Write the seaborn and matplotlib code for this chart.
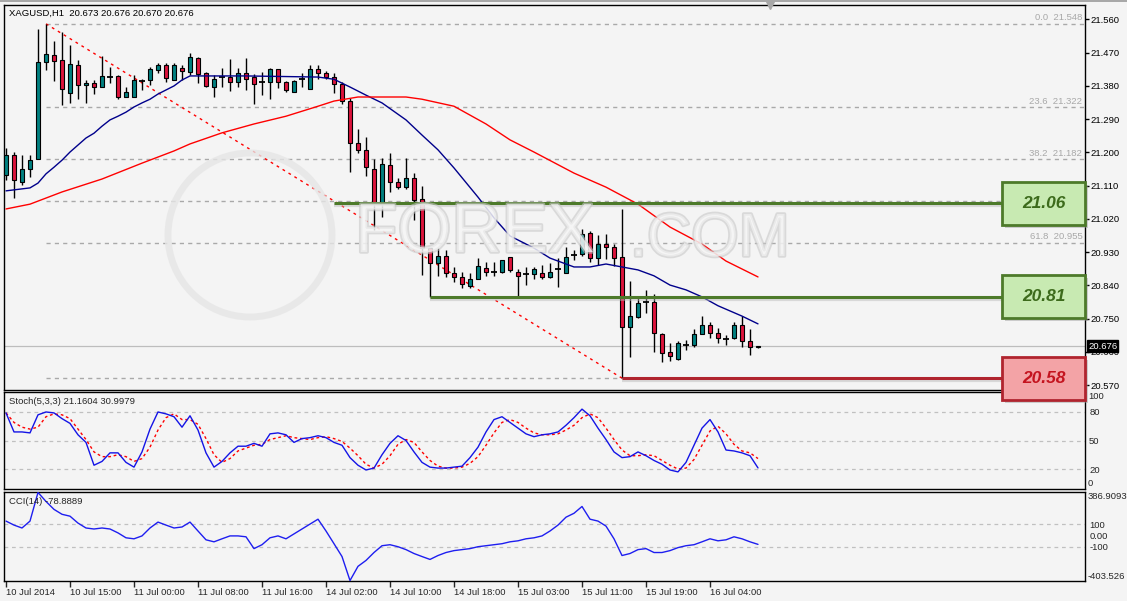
import numpy as np
import pandas as pd
import matplotlib
matplotlib.use("Agg")
import matplotlib.pyplot as plt
import matplotlib.transforms as mtransforms
from matplotlib.patches import FancyBboxPatch, Rectangle, Ellipse
import matplotlib.patheffects as pe
import seaborn as sns

# ---------------- data ----------------
symbol_header = "XAGUSD,H1  20.673 20.676 20.670 20.676"
stoch_header = "Stoch(5,3,3) 21.1604 30.9979"
cci_header = "CCI(14) -78.8889"

opens = [
    21.139, 21.193, 21.120, 21.155, 21.182, 21.444, 21.463, 21.450, 21.361, 21.436,
    21.382, 21.388, 21.377, 21.404, 21.407, 21.350, 21.350, 21.393, 21.396, 21.423,
    21.436, 21.396, 21.428, 21.417, 21.455, 21.415, 21.377, 21.404, 21.404, 21.390,
    21.415, 21.404, 21.390, 21.390, 21.426, 21.390, 21.363, 21.398, 21.371, 21.426,
    21.415, 21.404, 21.385, 21.339, 21.225, 21.206, 21.155, 21.063, 21.166, 21.120,
    21.106, 21.131, 21.074, 20.941, 20.901, 20.920, 20.874, 20.863, 20.839, 20.858,
    20.887, 20.876, 20.876, 20.917, 20.876, 20.871, 20.871, 20.874, 20.863, 20.885,
    20.874, 20.923, 20.925, 20.982, 20.914, 20.952, 20.944, 20.917, 20.728, 20.755,
    20.795, 20.795, 20.709, 20.660, 20.641, 20.679, 20.679, 20.709, 20.733, 20.711,
    20.695, 20.698, 20.733, 20.690, 20.673]
highs = [
    21.212, 21.201, 21.193, 21.193, 21.534, 21.548, 21.501, 21.526, 21.490, 21.450,
    21.396, 21.396, 21.461, 21.431, 21.409, 21.377, 21.409, 21.398, 21.431, 21.442,
    21.442, 21.442, 21.436, 21.469, 21.458, 21.417, 21.409, 21.428, 21.453, 21.428,
    21.455, 21.412, 21.417, 21.428, 21.426, 21.393, 21.396, 21.415, 21.436, 21.436,
    21.420, 21.415, 21.390, 21.347, 21.263, 21.242, 21.182, 21.185, 21.198, 21.131,
    21.185, 21.144, 21.109, 20.941, 20.941, 20.936, 20.890, 20.876, 20.874, 20.914,
    20.904, 20.904, 20.909, 20.917, 20.885, 20.890, 20.890, 20.896, 20.901, 20.914,
    20.944, 20.936, 20.993, 20.987, 20.977, 20.979, 20.952, 21.047, 20.852, 20.806,
    20.828, 20.817, 20.711, 20.684, 20.690, 20.693, 20.722, 20.757, 20.741, 20.725,
    20.706, 20.741, 20.757, 20.722, 20.676]
lows = [
    21.125, 21.077, 21.112, 21.134, 21.182, 21.423, 21.393, 21.328, 21.334, 21.344,
    21.334, 21.358, 21.377, 21.388, 21.344, 21.350, 21.350, 21.369, 21.382, 21.415,
    21.390, 21.396, 21.396, 21.409, 21.388, 21.377, 21.350, 21.377, 21.366, 21.377,
    21.369, 21.331, 21.355, 21.344, 21.374, 21.363, 21.363, 21.377, 21.371, 21.398,
    21.398, 21.361, 21.331, 21.147, 21.198, 21.136, 20.990, 21.025, 21.093, 21.101,
    21.101, 21.017, 20.868, 20.809, 20.866, 20.863, 20.849, 20.833, 20.833, 20.858,
    20.866, 20.866, 20.874, 20.876, 20.812, 20.841, 20.858, 20.858, 20.860, 20.836,
    20.874, 20.909, 20.920, 20.904, 20.896, 20.912, 20.893, 20.589, 20.647, 20.752,
    20.766, 20.660, 20.633, 20.636, 20.638, 20.665, 20.674, 20.709, 20.698, 20.684,
    20.679, 20.695, 20.674, 20.652, 20.670]
closes = [
    21.193, 21.125, 21.155, 21.179, 21.444, 21.466, 21.447, 21.371, 21.439, 21.382,
    21.388, 21.377, 21.407, 21.404, 21.350, 21.363, 21.396, 21.393, 21.426, 21.436,
    21.401, 21.436, 21.420, 21.458, 21.412, 21.380, 21.398, 21.404, 21.390, 21.415,
    21.398, 21.385, 21.390, 21.426, 21.390, 21.369, 21.393, 21.398, 21.426, 21.415,
    21.404, 21.385, 21.339, 21.225, 21.206, 21.161, 21.063, 21.169, 21.120, 21.106,
    21.131, 21.071, 20.941, 20.901, 20.920, 20.874, 20.863, 20.844, 20.858, 20.893,
    20.876, 20.876, 20.909, 20.882, 20.866, 20.871, 20.885, 20.863, 20.876, 20.885,
    20.917, 20.923, 20.979, 20.914, 20.952, 20.944, 20.914, 20.728, 20.757, 20.793,
    20.795, 20.711, 20.657, 20.649, 20.684, 20.679, 20.709, 20.733, 20.711, 20.698,
    20.695, 20.733, 20.690, 20.674, 20.676]

ma_fast_bars = [0, 3, 4, 5, 6, 7, 8, 9, 10, 11, 12, 13, 14, 15, 16, 17, 18, 19, 20,
                21, 22, 23, 30, 39, 41, 43, 45, 47, 50, 52, 54, 56, 59, 61, 63, 66,
                68, 71, 73, 75, 77, 79, 81, 83, 85, 87, 89, 92, 94]
ma_fast_vals = [21.096, 21.104, 21.117, 21.142, 21.160, 21.179, 21.201, 21.220,
                21.239, 21.252, 21.271, 21.288, 21.298, 21.309, 21.323, 21.334,
                21.344, 21.358, 21.369, 21.380, 21.396, 21.407, 21.407, 21.404,
                21.398, 21.377, 21.355, 21.334, 21.288, 21.247, 21.207, 21.158,
                21.079, 21.023, 20.974, 20.941, 20.914, 20.890, 20.890, 20.898,
                20.890, 20.882, 20.866, 20.841, 20.828, 20.809, 20.785, 20.757,
                20.736]
ma_slow_bars = [0, 3, 7, 12, 17, 21, 23, 27, 31, 35, 39, 41, 44, 47, 50, 52, 56,
                60, 63, 66, 71, 75, 79, 83, 87, 90, 94]
ma_slow_vals = [21.047, 21.060, 21.093, 21.128, 21.171, 21.204, 21.223, 21.253,
                21.277, 21.298, 21.325, 21.339, 21.350, 21.350, 21.350, 21.344,
                21.325, 21.277, 21.234, 21.201, 21.144, 21.106, 21.060, 20.998,
                20.952, 20.906, 20.863]

stoch_k = [79, 59, 59, 58, 77, 80, 79, 73, 68, 56,
           48, 24, 28, 37, 37, 27, 22, 38, 62, 80,
           78, 75, 64, 76, 61, 37, 22, 28, 37, 44,
           44, 47, 44, 57, 58, 56, 48, 52, 53, 55,
           53, 48, 45, 32, 24, 19, 21, 35, 47, 55,
           50, 38, 27, 22, 21, 21, 22, 23, 32, 43,
           59, 72, 75, 69, 63, 57, 54, 56, 57, 59,
           66, 74, 83, 76, 63, 51, 38, 32, 33, 38,
           34, 29, 25, 19, 17, 27, 45, 63, 72, 59,
           40, 39, 37, 34, 21.1604]
stoch_d = [79, 69, 64, 62, 64, 75, 78, 77, 73, 62,
           51, 38, 33, 33, 35, 33, 28, 31, 43, 61,
           74, 78, 72, 72, 67, 52, 35, 27, 31, 39,
           42, 45, 46, 51, 53, 55, 53, 52, 51, 53,
           54, 52, 49, 42, 34, 25, 21, 25, 34, 46,
           51, 48, 38, 29, 23, 21, 21, 22, 26, 33,
           45, 58, 69, 72, 69, 63, 58, 56, 56, 57,
           61, 66, 74, 78, 74, 63, 51, 40, 34, 34,
           35, 34, 29, 24, 20, 21, 30, 45, 60, 65,
           57, 46, 39, 37, 30.9979]
cci = [130, 94, 68, 130, 386.9093, 306, 235, 191, 174, 112,
       68, 59, 68, 59, 24, -20, -29, -3, 68, 121,
       94, 68, 77, 121, 41, -38, -56, -29, -3, -3,
       -11, -117, -82, -20, -3, -29, 15, 59, 103, 147,
       41, -73, -188, -403.526, -276, -223, -152, -91, -82, -100,
       -126, -161, -188, -214, -179, -152, -135, -126, -117, -100,
       -91, -82, -73, -56, -47, -29, -20, -3, 41, 94,
       165, 200, 261, 147, 130, 85, -29, -179, -161, -126,
       -117, -152, -152, -135, -108, -91, -82, -56, -29, -47,
       -38, -11, -29, -56, -78.8889]

price_ticks = [21.560, 21.470, 21.380, 21.290, 21.200, 21.110, 21.020, 20.930,
               20.840, 20.750, 20.660, 20.570]
time_tick_bars = [0, 8, 16, 24, 32, 40, 48, 56, 64, 72, 80, 88]
time_tick_labels = ["10 Jul 2014", "10 Jul 15:00", "11 Jul 00:00", "11 Jul 08:00",
                    "11 Jul 16:00", "14 Jul 02:00", "14 Jul 10:00", "14 Jul 18:00",
                    "15 Jul 03:00", "15 Jul 11:00", "15 Jul 19:00", "16 Jul 04:00"]

fib_pcts = [0.0, 23.6, 38.2, 50.0, 61.8, 100.0]
fib_labelled = [0.0, 23.6, 38.2, 61.8]   # the others sit under the boxes
fib_anchor_high_bar = 5
fib_anchor_low_bar = 77

level_vals = [21.063, 20.81, 20.589]
level_labels = ["21.06", "20.81", "20.58"]
level_start_bars = [41, 53, 77]
level_kinds = ["res", "res", "sup"]

stoch_levels = [80, 50, 20]
cci_levels = [100, -100]
last_price = closes[-1]

# ---------------- style ----------------
sns.set_style("white")
plt.rcParams["font.family"] = ["Liberation Sans", "DejaVu Sans"]
BG = "#f4f4f4"
FS = 6.8

W, H = 1127, 601
fig = plt.figure(figsize=(W / 100, H / 100), dpi=100, facecolor=BG)


def rect(x0, y0, x1, y1):
    return [x0 / W, 1 - y1 / H, (x1 - x0) / W, (y1 - y0) / H]


ax = fig.add_axes(rect(4, 5, 1085, 390))
ax_st = fig.add_axes(rect(4, 392, 1085, 489), sharex=ax)
ax_cci = fig.add_axes(rect(4, 492, 1085, 581), sharex=ax)
ax.set_zorder(3)
ax_st.set_zorder(1)
ax_cci.set_zorder(1)

for a in (ax, ax_st, ax_cci):
    a.set_facecolor(BG)
    for s in a.spines.values():
        s.set_color("black")
        s.set_linewidth(1)
    a.yaxis.tick_right()

XMIN, XMAX = -0.25, 134.875
ax.set_xlim(XMIN, XMAX)

# ---------------- main panel ----------------
df = pd.DataFrame(dict(bar=np.arange(len(opens)), open=opens, high=highs,
                       low=lows, close=closes))
up = df.close > df.open
dn = df.close < df.open
flat = ~(up | dn)

ax.vlines(df.bar, df.low, df.high, color="black", lw=1, zorder=4)
ax.bar(df.bar[up], (df.close - df.open)[up], bottom=df.open[up], width=0.58,
       color="#008080", edgecolor="black", linewidth=0.8, zorder=5)
ax.bar(df.bar[dn], (df.open - df.close)[dn], bottom=df.close[dn], width=0.58,
       color="#dc143c", edgecolor="black", linewidth=0.8, zorder=5)
ax.hlines(df.close[flat], df.bar[flat] - 0.32, df.bar[flat] + 0.32,
          color="black", lw=1.3, zorder=5)

sns.lineplot(x=ma_fast_bars, y=ma_fast_vals, ax=ax, color="#00008b",
             linewidth=1, estimator=None, zorder=6)
sns.lineplot(x=ma_slow_bars, y=ma_slow_vals, ax=ax, color="#ff0000",
             linewidth=1, estimator=None, zorder=6)

# Fibonacci levels
fh = highs[fib_anchor_high_bar]
fl = lows[fib_anchor_low_bar]
label_tr = mtransforms.blended_transform_factory(ax.transAxes, ax.transData)
for p in fib_pcts:
    lvl = fh - p / 100.0 * (fh - fl)
    ax.hlines(lvl, fib_anchor_high_bar, XMAX, color="#a9a9a9", lw=1,
              linestyles=(0, (3, 3)), zorder=1)
    if p in fib_labelled:
        ax.text(0.9975, lvl + 0.004, f"{p:.1f}  {lvl:.3f}", transform=label_tr,
                ha="right", va="bottom", fontsize=FS, color="#a8a8a8", zorder=2)

# trend line (dotted red)
ax.plot([fib_anchor_high_bar, fib_anchor_low_bar], [fh, fl], color="#ff0000",
        lw=1, ls=(0, (2, 3)), zorder=3)

# current price line
ax.axhline(last_price, color="#bdbdbd", lw=0.9, zorder=1)

# support / resistance lines and boxes
box_left_frac = (1002 - 4) / 1081
box_left_bar = XMIN + box_left_frac * (XMAX - XMIN)
box_h = 43 * (21.599 - 20.557) / 385
shadow_off = mtransforms.ScaledTranslation(3 / 100, -3 / 100, fig.dpi_scale_trans)
line_shadow = mtransforms.ScaledTranslation(0, -2 / 100, fig.dpi_scale_trans)
for val, lab, st, kind in zip(level_vals, level_labels, level_start_bars, level_kinds):
    if kind == "res":
        edge, fill, tcol = "#4d7a2a", "#c8eab2", "#3d6b1c"
    else:
        edge, fill, tcol = "#b0242e", "#f3a3a6", "#c4141f"
    ax.hlines(val, st, box_left_bar, color="#b8b8b8", lw=3, alpha=0.45,
              transform=ax.transData + line_shadow, zorder=6)
    ax.hlines(val, st, box_left_bar, color=edge, lw=2.2, zorder=7)
    sh = FancyBboxPatch((box_left_frac, val - box_h / 2), 1 - box_left_frac, box_h,
                        boxstyle="square,pad=0", transform=label_tr + shadow_off,
                        facecolor="#9a9a9a", edgecolor="none", alpha=0.45,
                        clip_on=False, zorder=8)
    ax.add_patch(sh)
    bx = FancyBboxPatch((box_left_frac, val - box_h / 2), 1 - box_left_frac, box_h,
                        boxstyle="square,pad=0", transform=label_tr,
                        facecolor=fill, edgecolor=edge, linewidth=2,
                        clip_on=False, zorder=9)
    ax.add_patch(bx)
    ax.text((box_left_frac + 1) / 2, val, lab, transform=label_tr, ha="center",
            va="center", fontsize=12.5, fontweight="bold", fontstyle="italic",
            color=tcol, zorder=10, clip_on=False)

# watermark
wm = dict(transform=ax.transAxes, zorder=8, alpha=0.6,
          path_effects=[pe.withStroke(linewidth=2.5, foreground="#c8c8c8")])
ax.add_patch(Ellipse(((250 - 4) / 1081, 1 - (235 - 5) / 385), 164 / 1081, 164 / 385,
                     transform=ax.transAxes, facecolor="none", edgecolor="#e6e6e6",
                     linewidth=5, alpha=0.8, zorder=8))
ax.text((355 - 4) / 1081, 1 - (252 - 5) / 385, "FOREX", fontsize=50,
        color="#f6f6f6", ha="left", va="baseline", **wm)
ax.text((630 - 4) / 1081, 1 - (256 - 5) / 385, ".COM", fontsize=44,
        color="#f6f6f6", ha="left", va="baseline", **wm)

ax.set_ylim(20.557, 21.599)
ax.set_yticks(price_ticks)
ax.set_yticklabels([f"{v:.3f}" for v in price_ticks])
ax.tick_params(axis="y", right=True, length=3, width=1, direction="out", pad=1,
               labelsize=FS, colors="black")
ax.tick_params(axis="x", bottom=False, labelbottom=False)
ax.set_xlabel("")
ax.set_ylabel("")

# current price tag
ax.text(1 + 3 / 1081, last_price, f"{last_price:.3f}", transform=label_tr,
        ha="left", va="center", fontsize=FS, color="white", zorder=12,
        clip_on=False, bbox=dict(facecolor="black", edgecolor="black", pad=0.8))

ax.text((9 - 4) / 1081, 1 - (13 - 5) / 385, symbol_header, transform=ax.transAxes,
        ha="left", va="center", fontsize=FS, color="black", zorder=12)

# chart shift marker
ax.plot([95.5], [1.0], marker="v", markersize=6, color="#a8a8a8",
        transform=mtransforms.blended_transform_factory(ax.transData, ax.transAxes),
        clip_on=False, zorder=12)

# ---------------- stochastic panel ----------------
bars = np.arange(len(stoch_k))
for lv in stoch_levels:
    ax_st.axhline(lv, color="#c0c0c0", lw=0.9, ls=(0, (3, 3)), zorder=1)
sns.lineplot(x=bars, y=stoch_d, ax=ax_st, color="#ff0000", linewidth=1,
             linestyle=(0, (2, 2)), estimator=None, zorder=3)
sns.lineplot(x=bars, y=stoch_k, ax=ax_st, color="#1414e6", linewidth=1,
             estimator=None, zorder=4)
ax_st.set_ylim(-1, 101)
ax_st.set_yticks(stoch_levels)
ax_st.set_yticklabels([str(v) for v in stoch_levels])
ax_st.tick_params(axis="y", length=0, pad=3, labelsize=FS)
ax_st.tick_params(axis="x", bottom=False, labelbottom=False)
st_tr = mtransforms.blended_transform_factory(ax_st.transAxes, ax_st.transData)
ax_st.text(1 + 3 / 1081, 101, "100", transform=st_tr, ha="left", va="top",
           fontsize=FS, clip_on=False)
ax_st.text(1 + 3 / 1081, 0, "0", transform=st_tr, ha="left", va="bottom",
           fontsize=FS, clip_on=False)
ax_st.text((9 - 4) / 1081, 1 - 9 / 97, stoch_header, transform=ax_st.transAxes,
           ha="left", va="center", fontsize=FS)
ax_st.set_xlabel("")
ax_st.set_ylabel("")

# ---------------- CCI panel ----------------
for lv in cci_levels:
    ax_cci.axhline(lv, color="#c0c0c0", lw=0.9, ls=(0, (3, 3)), zorder=1)
sns.lineplot(x=bars, y=cci, ax=ax_cci, color="#1e1ef0", linewidth=1,
             estimator=None, zorder=3)
cmin, cmax = min(cci), max(cci)
ax_cci.set_ylim(cmin - 4, cmax + 4)
ax_cci.set_yticks([100, 0, -100])
ax_cci.set_yticklabels(["100", "0.00", "-100"])
ax_cci.tick_params(axis="y", length=0, pad=3, labelsize=FS)
cci_tr = mtransforms.blended_transform_factory(ax_cci.transAxes, ax_cci.transData)
ax_cci.text(1 + 3 / 1081, cmax, f"{cmax:.4f}", transform=cci_tr, ha="left",
            va="top", fontsize=FS, clip_on=False)
ax_cci.text(1 + 3 / 1081, cmin, f"{cmin:.3f}", transform=cci_tr, ha="left",
            va="bottom", fontsize=FS, clip_on=False)
ax_cci.text((9 - 4) / 1081, 1 - 10 / 89, cci_header, transform=ax_cci.transAxes,
            ha="left", va="center", fontsize=FS)
ax_cci.set_xticks(time_tick_bars)
ax_cci.set_xticklabels(time_tick_labels, ha="left")
ax_cci.tick_params(axis="x", bottom=True, length=4, width=1, direction="out",
                   pad=1, labelsize=FS)
ax_cci.set_xlabel("")
ax_cci.set_ylabel("")
ax_cci.set_xlim(XMIN, XMAX)

# frame decoration
fig.add_artist(Rectangle((0, 1 - 2 / H), 1, 2 / H, transform=fig.transFigure,
                         facecolor="#a8a8a8", edgecolor="none"))

fig.savefig("out.png", dpi=100, facecolor=BG)
